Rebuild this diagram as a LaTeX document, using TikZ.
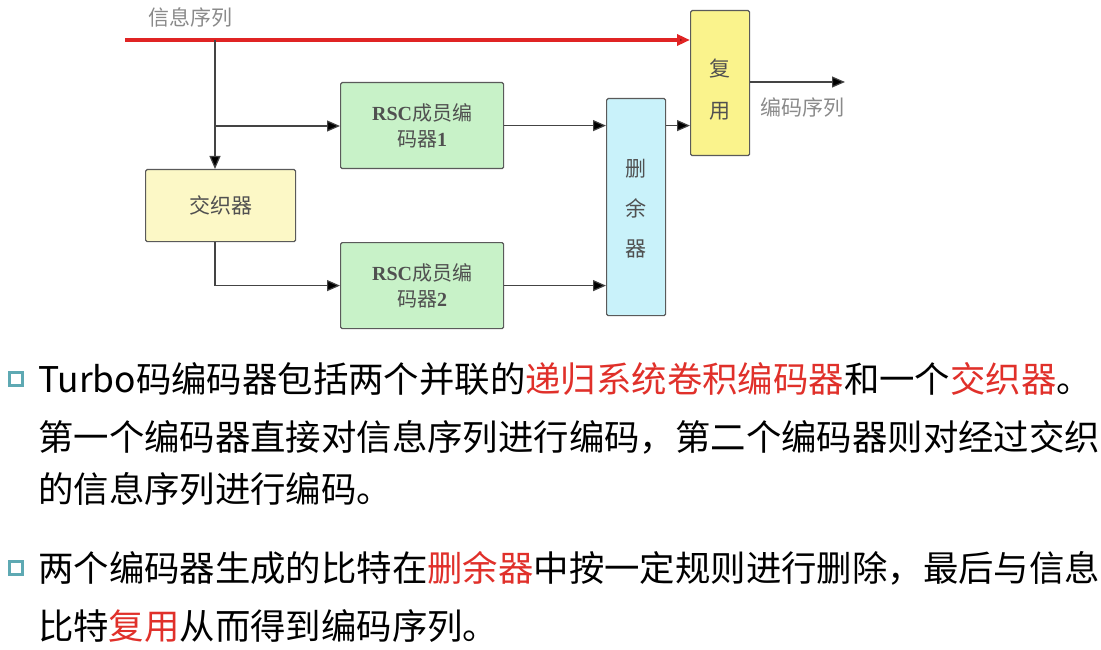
\documentclass[tikz,border=0pt]{standalone}
\usepackage{fontspec}
\setmainfont{Liberation Serif}
\newfontfamily\cjk{Noto Sans CJK SC}
\usetikzlibrary{arrows.meta}
\definecolor{linegray}{HTML}{444444}
\definecolor{boxedge}{HTML}{5A5A5A}
\definecolor{rscfill}{HTML}{C8F2C8}
\definecolor{ilvfill}{HTML}{FCF8C6}
\definecolor{muxfill}{HTML}{FAF38C}
\definecolor{punfill}{HTML}{C9F2FA}
\definecolor{labelgray}{HTML}{8A8A8A}
\definecolor{boxtext}{HTML}{505050}
\definecolor{hlred}{HTML}{E0302A}
\definecolor{sigred}{HTML}{E02424}
\definecolor{bullet}{HTML}{5EA9B3}
\begin{document}
\begin{tikzpicture}[x=1pt,y=-1pt,
  blk/.style={draw=boxedge,line width=1.2pt,rounded corners=1.5pt,inner sep=0pt,anchor=north west},
  blktext/.style={text=boxtext,font=\fontsize{20}{28}\selectfont,align=center},
  conn/.style={draw=linegray,line width=1.2pt,-{Triangle[length=13pt,width=11pt,fill=black]}},
  body/.style={anchor=west,inner sep=0pt,font=\cjk\fontsize{35.4}{40}\selectfont},
  bulletbox/.style={draw=bullet,line width=2.2pt,minimum size=13pt,inner sep=0pt}]
\useasboundingbox (0,0) rectangle (1101,650);

% blocks
\node[blk,fill=rscfill,minimum width=163pt,minimum height=86pt] (rsc1) at (340,82) {};
\node[blk,fill=rscfill,minimum width=163pt,minimum height=86pt] (rsc2) at (340,242) {};
\node[blk,fill=ilvfill,minimum width=150pt,minimum height=72pt] (ilv) at (145,169) {};
\node[blk,fill=punfill,minimum width=59pt,minimum height=217pt] (pun) at (606,98) {};
\node[blk,fill=muxfill,minimum width=59pt,minimum height=145pt] (mux) at (690,10) {};

\node[blktext] at (rsc1.center) {\textbf{RSC}{\cjk 成员编}\\[-2pt]{\cjk 码器}\textbf{1}};
\node[blktext] at (rsc2.center) {\textbf{RSC}{\cjk 成员编}\\[-2pt]{\cjk 码器}\textbf{2}};
\node[blktext,font=\cjk\fontsize{21}{28}\selectfont] at (ilv.center) {交织器};
\node[blktext,font=\cjk\fontsize{21}{40}\selectfont] at ([yshift=-2pt]pun.center) {删\\余\\器};
\node[blktext,font=\cjk\fontsize{21}{42}\selectfont] at ([yshift=-6pt]mux.center) {复\\用};

% information sequence and its branches
\coordinate (src) at (125,40);
\coordinate (tap) at (215,40);
\coordinate (tap1) at (215,126);
\node[anchor=west,inner sep=0pt,text=labelgray,font=\cjk\fontsize{21}{24}\selectfont] (srclbl) at (148,17) {信息序列};
\draw[line width=4pt,draw=sigred,-{Triangle[length=13pt,width=11pt,fill=black]}] (src) -- (mux.west |- src);
\draw[conn] (tap) -- (tap |- ilv.north);
\draw[conn] (tap1) -- (rsc1.west |- tap1);
\draw[conn] (tap |- ilv.south) |- (rsc2.west);
\draw[conn] (rsc1.east) -- (pun.west |- rsc1.east);
\draw[conn] (rsc2.east) -- (pun.west |- rsc2.east);
\draw[conn] (pun.east |- rsc1.east) -- (mux.west |- rsc1.east);

% output
\coordinate (out) at (845,82);
\draw[conn] (mux.east |- out) -- (out);
\node[anchor=west,inner sep=0pt,text=labelgray,font=\cjk\fontsize{21}{24}\selectfont] (outlbl) at (760,108) {编码序列};

% explanatory text
\node[bulletbox] (b1) at (16,379) {};
\node[body] (l1) at (38,379) {Turbo码编码器包括两个并联的{\color{hlred}递归系统卷积编码器}和一个{\color{hlred}交织器}。};
\node[body] (l2) at (38,437) {第一个编码器直接对信息序列进行编码，第二个编码器则对经过交织};
\node[body] (l3) at (38,489) {的信息序列进行编码。};
\node[bulletbox] (b2) at (16,568) {};
\node[body] (l4) at (38,568) {两个编码器生成的比特在{\color{hlred}删余器}中按一定规则进行删除，最后与信息};
\node[body] (l5) at (38,626) {比特{\color{hlred}复用}从而得到编码序列。};
\end{tikzpicture}
\end{document}
